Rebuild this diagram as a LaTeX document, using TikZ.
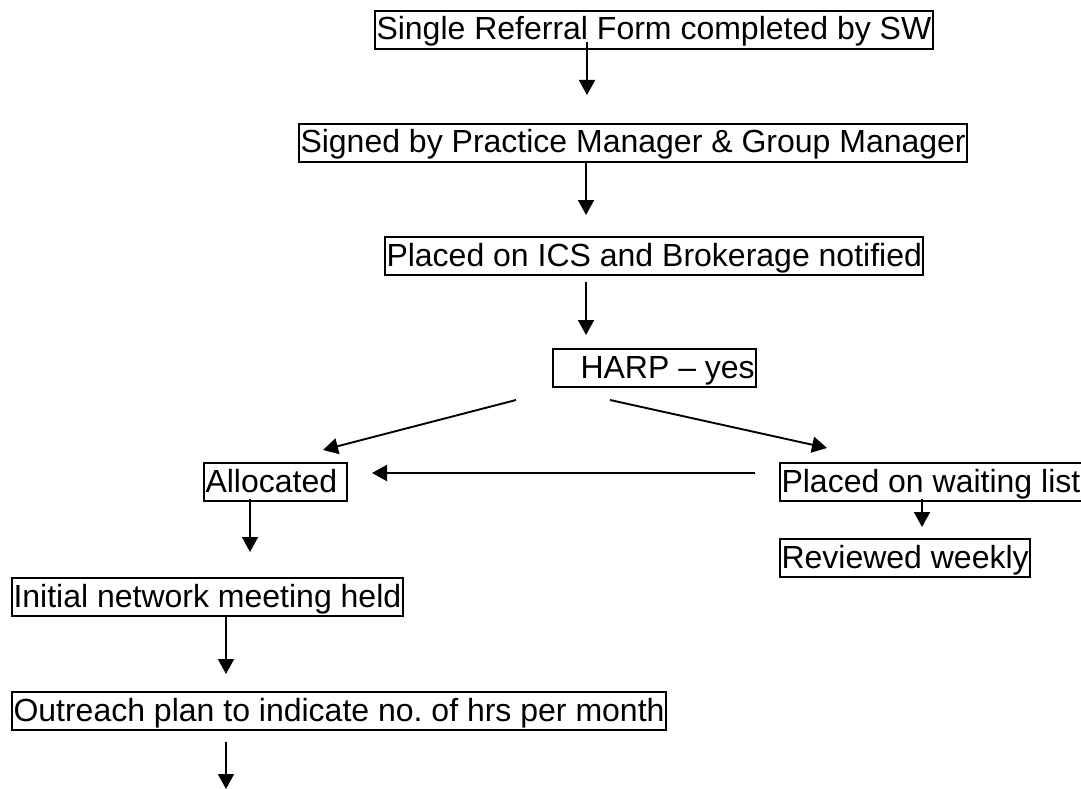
\documentclass[tikz,border=0pt]{standalone}
\usepackage{fontspec}
\setmainfont{Liberation Sans}
\usetikzlibrary{arrows.meta}
\frenchspacing
\begin{document}
\begin{tikzpicture}[x=1pt,y=-1pt,
    font=\fontsize{32}{38}\selectfont,
    box/.style={draw,line width=2pt,anchor=north west,inner xsep=1.5pt,inner ysep=1pt,text height=28pt,text depth=7.7pt},
    arr/.style={line width=1.9pt,-{Triangle[length=15pt,width=16pt]}}]
    \useasboundingbox (0,0) rectangle (1081,789);
    \node[box] (form) at (374,10) {Single Referral Form completed by SW};
    \node[box] (signed) at (298,123) {Signed by Practice Manager \& Group Manager};
    \node[box] (ics) at (384,236) {Placed on ICS and Brokerage notified};
    \node[box] (harp) at (552,348) {\hspace{26pt}HARP -- yes};
    \node[box,text width=140pt,align=left] (alloc) at (203,462) {Allocated};
    \node[box] (wait) at (779,462) {Placed on waiting list};
    \node[box] (review) at (779,538) {Reviewed weekly};
    \node[box] (meeting) at (11,577) {Initial network meeting held};
    \node[box] (outreach) at (11,691) {Outreach plan to indicate no. of hrs per month};
    \coordinate (t1) at (587,95); \coordinate (t2) at (586,215); \coordinate (t3) at (586,335);
    \coordinate (s4) at (516,400); \coordinate (t4) at (323,450);
    \coordinate (s5) at (610,400); \coordinate (t5) at (827,448);
    \coordinate (s6) at (755,473); \coordinate (t6) at (372,473);
    \coordinate (t7) at (250,552); \coordinate (t8) at (922,527);
    \coordinate (t9) at (226,674); \coordinate (t10) at (226,789);
    \draw[arr] ([yshift=8pt]form.south -| t1) -- (t1);
    \draw[arr] (signed.south -| t2) -- (t2);
    \draw[arr,shorten <=6pt] (ics.south -| t3) -- (t3);
    \draw[arr] (s4) -- (t4);
    \draw[arr] (s5) -- (t5);
    \draw[arr] (s6) -- (t6);
    \draw[arr,shorten <=-3pt] (alloc.south -| t7) -- (t7);
    \draw[arr,shorten <=-3pt] (wait.south -| t8) -- (t8);
    \draw[arr] (meeting.south -| t9) -- (t9);
    \draw[arr,shorten <=11pt] (outreach.south -| t10) -- (t10);
\end{tikzpicture}
\end{document}
